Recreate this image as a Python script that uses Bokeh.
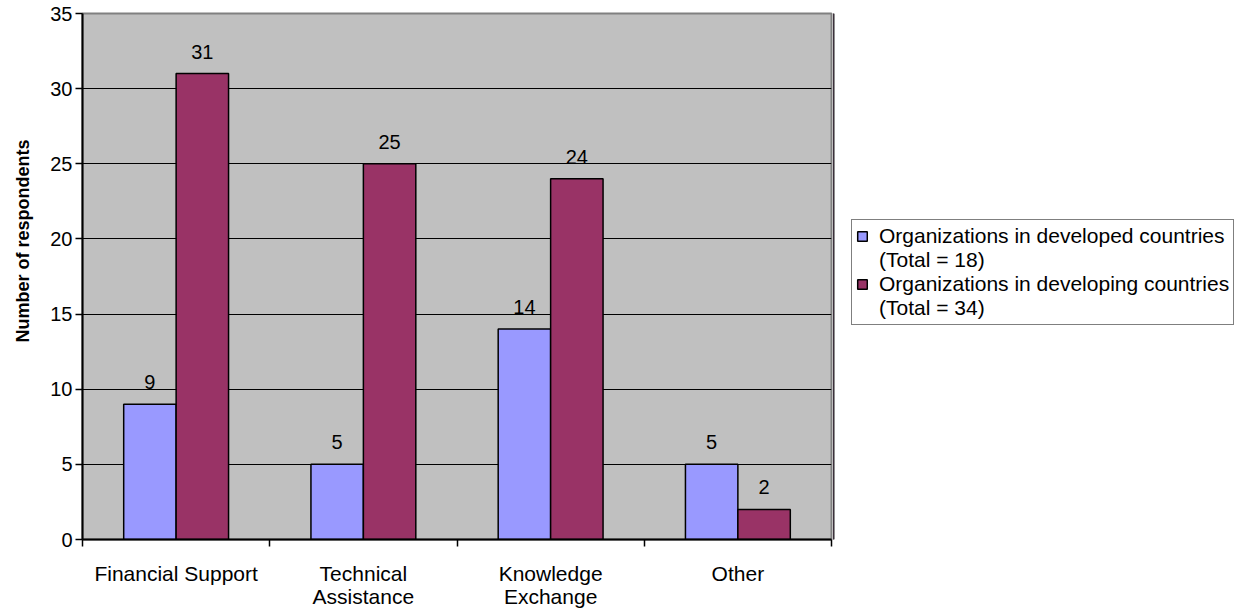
from bokeh.plotting import figure
from bokeh.layouts import row
from bokeh.models import (ColumnDataSource, FixedTicker, Legend, LegendItem,
                          Range1d, Title)
from bokeh.core.properties import value
from bokeh.embed import file_html
from bokeh.resources import INLINE

# Survey results: type of support, number of respondents by group
categories = ["Financial Support", "Technical\nAssistance", "Knowledge\nExchange", "Other"]
developed = [9, 5, 14, 5]
developing = [31, 25, 24, 2]
series_names = ["Organizations in developed countries", "Organizations in developing countries"]
series_totals = ["(Total = 18)", "(Total = 34)"]
y_ticks = [0, 5, 10, 15, 20, 25, 30, 35]

FONT = "Liberation Sans"
BLUE = "#9999FF"
PLUM = "#993366"
BAR_W = 0.28

centers = [i + 0.5 for i in range(len(categories))]
src_a = ColumnDataSource(dict(x=[c - BAR_W / 2 for c in centers], y=developed,
                              lbl=[str(v) for v in developed]))
src_b = ColumnDataSource(dict(x=[c + BAR_W / 2 for c in centers], y=developing,
                              lbl=[str(v) for v in developing]))

p = figure(width=833, height=613, output_backend="svg", toolbar_location=None,
           x_range=Range1d(0, len(categories)), y_range=Range1d(0, 35),
           min_border_left=81, min_border_right=2, min_border_top=13,
           min_border_bottom=74)

p.background_fill_color = "#C0C0C0"
p.border_fill_color = "white"
p.outline_line_color = "#808080"
p.outline_line_width = 2

bar_style = dict(width=BAR_W, line_color="black", line_width=1.5)
r_a = p.vbar(x="x", top="y", source=src_a, fill_color=BLUE, **bar_style)
r_b = p.vbar(x="x", top="y", source=src_b, fill_color=PLUM, **bar_style)

# value labels above each bar
for src in (src_a, src_b):
    p.text(x="x", y="y", text="lbl", source=src, text_align="center",
           text_baseline="bottom", y_offset=-15, text_font=value(FONT),
           text_font_size="20px", text_color="black")

# x axis: category names at centers, ticks at category boundaries
xa = p.xaxis[0]
xa.ticker = FixedTicker(ticks=centers, minor_ticks=list(range(len(categories) + 1)))
xa.major_label_overrides = {c: lab for c, lab in zip(centers, categories)}
xa.major_tick_out = 0
xa.major_tick_in = 0
xa.minor_tick_out = 7
xa.minor_tick_in = 0
xa.minor_tick_line_color = "black"
xa.minor_tick_line_width = 1.5
xa.axis_line_color = "black"
xa.axis_line_width = 2
xa.major_label_text_font = FONT
xa.major_label_text_font_size = "21px"
xa.major_label_text_color = "black"
xa.major_label_text_line_height = 1.0
xa.major_label_standoff = 15

ya = p.yaxis[0]
ya.ticker = FixedTicker(ticks=y_ticks)
ya.major_tick_out = 7
ya.major_tick_in = 0
ya.minor_tick_out = 0
ya.minor_tick_in = 0
ya.major_tick_line_width = 1.5
ya.axis_line_color = "black"
ya.axis_line_width = 2
ya.major_label_text_font = FONT
ya.major_label_text_font_size = "20px"
ya.major_label_text_color = "black"
ya.major_label_standoff = 3

p.add_layout(Title(text="Number of respondents", align="left", offset=197,
                   vertical_align="top", text_font=FONT, text_font_size="18px",
                   text_font_style="bold", text_color="black", standoff=25), "left")

p.xgrid.grid_line_color = None
p.ygrid.grid_line_color = "black"
p.ygrid.grid_line_width = 1
p.ygrid.ticker = FixedTicker(ticks=y_ticks)

# side panel holding the series legend
side = figure(width=411, height=613, output_backend="svg", toolbar_location=None,
              x_range=Range1d(0, 1), y_range=Range1d(0, 1),
              min_border=0, outline_line_color=None)
side.axis.visible = False
side.grid.visible = False
side.background_fill_color = "white"
side.border_fill_color = "white"

# legend keys: one swatch per series, out of view in the side panel
k_a = side.vbar(x=[-5], top=[1], fill_color=BLUE, **bar_style)
k_b = side.vbar(x=[-5], top=[1], fill_color=PLUM, **bar_style)
blank = side.vbar(x=[-5], top=[1], width=BAR_W, fill_alpha=0, line_alpha=0)

items = []
for key, name, total in zip((k_a, k_b), series_names, series_totals):
    items.append(LegendItem(label=name, renderers=[key]))
    items.append(LegendItem(label=total, renderers=[blank]))

legend = Legend(items=items, location=(18, 214))
legend.label_text_font = FONT
legend.label_text_font_size = "21px"
legend.label_text_color = "black"
legend.glyph_width = 12
legend.glyph_height = 12
legend.label_standoff = 11
legend.padding = 4
legend.spacing = 0
legend.margin = 0
legend.border_line_color = "black"
legend.border_line_width = 1.5
legend.background_fill_color = "white"
legend.background_fill_alpha = 1
side.add_layout(legend, "center")

layout = row(p, side, spacing=0)
open("out.html", "w").write(file_html(layout, INLINE))
